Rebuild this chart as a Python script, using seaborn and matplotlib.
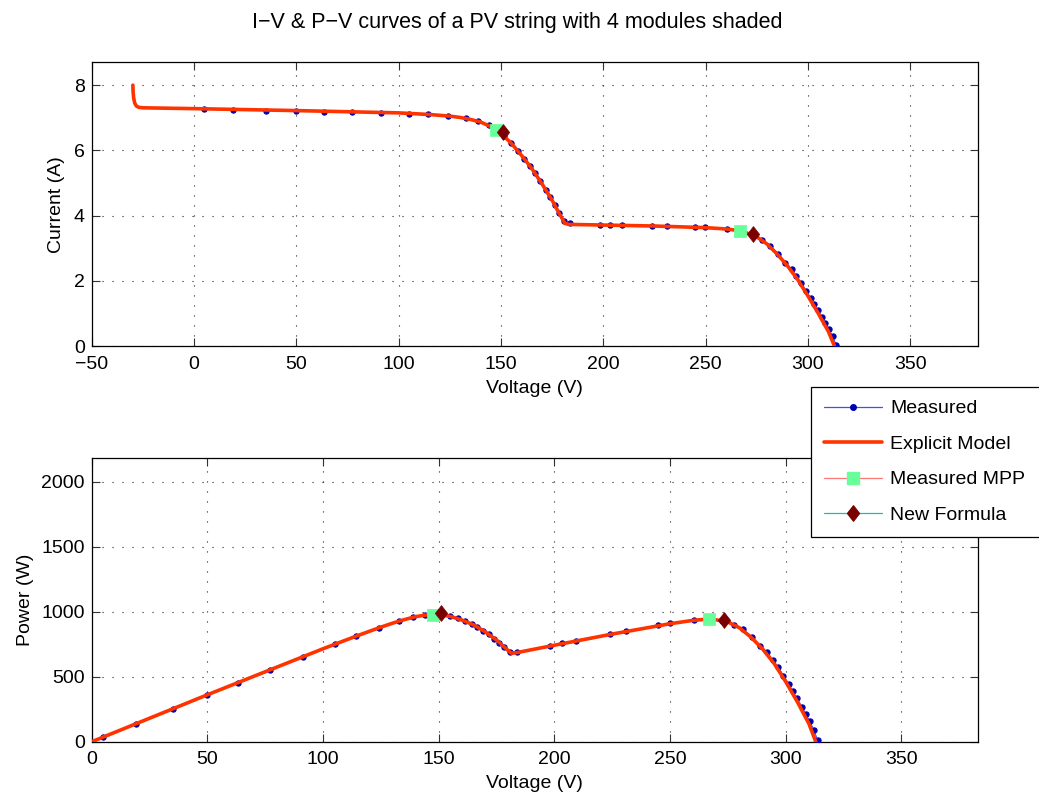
import numpy as np
import pandas as pd
import matplotlib
matplotlib.use("Agg")
import matplotlib.pyplot as plt
from matplotlib.lines import Line2D
from matplotlib.path import Path
import seaborn as sns

# ---- measured I-V points of the shaded string ----
meas_v = [4.8, 19.2, 35.3, 49.8, 63.3, 77.1, 91.5, 105.2, 114.3, 124.3, 133.0, 139.0,
          144.0, 147.5, 151.5, 154.9, 158.3, 161.5, 164.2, 166.7, 169.3, 171.9, 174.0,
          176.2, 178.4, 180.8, 183.8, 198.2, 203.1, 209.3, 224.0, 231.1, 244.9, 249.9,
          260.3, 266.9, 272.5, 277.5, 281.5, 285.5, 289.0, 292.0, 294.3, 296.8, 299.0,
          301.5, 303.0, 304.8, 307.0, 308.6, 310.3, 312.1, 313.8]
meas_i = [7.26, 7.24, 7.22, 7.21, 7.19, 7.18, 7.16, 7.13, 7.11, 7.06, 6.98, 6.90,
          6.78, 6.62, 6.44, 6.23, 5.99, 5.73, 5.52, 5.30, 5.05, 4.80, 4.56,
          4.32, 4.08, 3.82, 3.76, 3.72, 3.72, 3.71, 3.69, 3.68, 3.65, 3.64,
          3.59, 3.53, 3.40, 3.24, 3.07, 2.82, 2.55, 2.36, 2.14, 1.93, 1.70,
          1.46, 1.28, 1.10, 0.88, 0.70, 0.52, 0.30, 0.04]

# ---- explicit model curve ----
model_v = [-29.9, -29.8, -29.5, -29.0, -28.2, -27.0, -25.0, 0.0, 50.0, 100.0, 115.0,
           125.0, 130.0, 135.0, 140.0, 145.0, 150.0, 155.0, 160.0, 165.0, 170.0, 175.0,
           178.0, 180.0, 181.3, 183.0, 200.0, 225.0, 250.0, 260.0, 265.0, 270.0, 275.0,
           280.0, 285.0, 290.0, 295.0, 300.0, 305.0, 310.0, 313.0]
model_i = [8.00, 7.80, 7.60, 7.45, 7.36, 7.32, 7.305, 7.28, 7.22, 7.15, 7.10,
           7.05, 7.01, 6.95, 6.87, 6.73, 6.52, 6.22, 5.85, 5.45, 4.98, 4.47,
           4.12, 3.90, 3.76, 3.73, 3.71, 3.68, 3.63, 3.59, 3.55, 3.47, 3.35,
           3.13, 2.82, 2.46, 2.04, 1.54, 1.01, 0.45, 0.00]

# ---- maximum power points (two local maxima) ----
mpp_meas_v = [147.5, 266.9]
mpp_meas_i = [6.62, 3.53]
mpp_new_v = [151.2, 273.2]
mpp_new_i = [6.57, 3.44]

measured = pd.DataFrame({"V": meas_v, "I": meas_i})
measured["P"] = measured["V"] * measured["I"]
model = pd.DataFrame({"V": model_v, "I": model_i})
model["P"] = model["V"] * model["I"]
mpp_meas = pd.DataFrame({"V": mpp_meas_v, "I": mpp_meas_i})
mpp_meas["P"] = mpp_meas["V"] * mpp_meas["I"]
mpp_new = pd.DataFrame({"V": mpp_new_v, "I": mpp_new_i})
mpp_new["P"] = mpp_new["V"] * mpp_new["I"]

sns.set_style("white")
plt.rcParams["font.family"] = ["Liberation Sans", "DejaVu Sans"]
plt.rcParams["axes.unicode_minus"] = True
plt.rcParams["text.color"] = "black"
plt.rcParams["axes.labelcolor"] = "black"
plt.rcParams["xtick.color"] = "black"
plt.rcParams["ytick.color"] = "black"

C_MEAS_LINE = "#4848ff"
C_MEAS_DOT = "#0000b0"
C_MODEL = "#ff3300"
C_SQ = "#66ff99"
C_SQ_LINE = "#ff7777"
C_DIA = "#7a0000"
C_DIA_LINE = "#20b8b8"

diamond = Path([(0, 1), (0.78, 0), (0, -1), (-0.78, 0), (0, 1)],
               [Path.MOVETO, Path.LINETO, Path.LINETO, Path.LINETO, Path.CLOSEPOLY])

fig = plt.figure(figsize=(10.39, 7.96), dpi=100)
ax1 = fig.add_axes([0.0883, 0.5653, 0.8527, 0.3564])
ax2 = fig.add_axes([0.0883, 0.0682, 0.8527, 0.3561])

FS = 14


def draw(ax, ycol):
    sns.lineplot(data=measured, x="V", y=ycol, ax=ax, sort=False, estimator=None,
                 color=C_MEAS_LINE, lw=0.8, marker="o", markersize=3.8,
                 markerfacecolor=C_MEAS_DOT, markeredgecolor=C_MEAS_DOT, zorder=3)
    sns.lineplot(data=model, x="V", y=ycol, ax=ax, sort=False, estimator=None,
                 color=C_MODEL, lw=2.6, zorder=4)
    sns.scatterplot(data=mpp_meas, x="V", y=ycol, ax=ax, marker="s", s=70,
                    color=C_SQ, edgecolor=C_SQ, linewidth=0.5, zorder=5)
    sns.scatterplot(data=mpp_new, x="V", y=ycol, ax=ax, marker=diamond, s=130,
                    color=C_DIA, edgecolor=C_DIA, linewidth=0.5, zorder=6)
    ax.grid(True, color="#222222", linestyle=(0, (1, 8)), lw=0.8)
    ax.tick_params(direction="in", length=6, width=0.8, color="#333333",
                   labelsize=FS, labelcolor="black", top=True, right=True,
                   bottom=True, left=True)
    ax.tick_params(axis="x", pad=7)
    ax.tick_params(axis="y", pad=5)
    for sp in ax.spines.values():
        sp.set_visible(True)
        sp.set_color("black")
        sp.set_linewidth(0.9)
    ax.set_xlabel("Voltage (V)", fontsize=FS, labelpad=5)


draw(ax1, "I")
ax1.set_xlim(-50, 383)
ax1.set_ylim(0, 8.7)
ax1.set_xticks(np.arange(-50, 351, 50))
ax1.set_yticks([0, 2, 4, 6, 8])
ax1.set_ylabel("Current (A)", fontsize=FS, labelpad=6)

draw(ax2, "P")
ax2.set_xlim(0, 383)
ax2.set_ylim(0, 2180)
ax2.set_xticks(np.arange(0, 351, 50))
ax2.set_yticks(np.arange(0, 2001, 500))
ax2.set_ylabel("Power (W)", fontsize=FS, labelpad=5)

fig.text(517 / 1039, 1 - 22.5 / 796,
         "I\u2212V & P\u2212V curves of a PV string with 4 modules shaded",
         ha="center", va="center", fontsize=15.5)

handles = [
    Line2D([], [], color=C_MEAS_LINE, lw=0.9, marker="o", markersize=4,
           markerfacecolor=C_MEAS_DOT, markeredgecolor=C_MEAS_DOT),
    Line2D([], [], color=C_MODEL, lw=2.6),
    Line2D([], [], color=C_SQ_LINE, lw=0.9, marker="s", markersize=8,
           markerfacecolor=C_SQ, markeredgecolor=C_SQ),
    Line2D([], [], color=C_DIA_LINE, lw=0.9, marker=diamond, markersize=11,
           markerfacecolor=C_DIA, markeredgecolor=C_DIA),
]
labels = ["Measured", "Explicit Model", "Measured MPP", "New Formula"]
leg_top = 1 - 386.7 / 796
leg_h = 150 / 796
leg = fig.legend(handles, labels, loc="upper left", mode="expand",
                 bbox_to_anchor=(811 / 1039, leg_top - leg_h, 245 / 1039, leg_h),
                 bbox_transform=fig.transFigure, borderaxespad=0,
                 fontsize=FS, frameon=True, fancybox=False, framealpha=1,
                 edgecolor="black", handlelength=3.0, handletextpad=0.4,
                 labelspacing=0.92, borderpad=0.67)
leg.get_frame().set_linewidth(0.9)

fig.savefig("out.png", dpi=100)
